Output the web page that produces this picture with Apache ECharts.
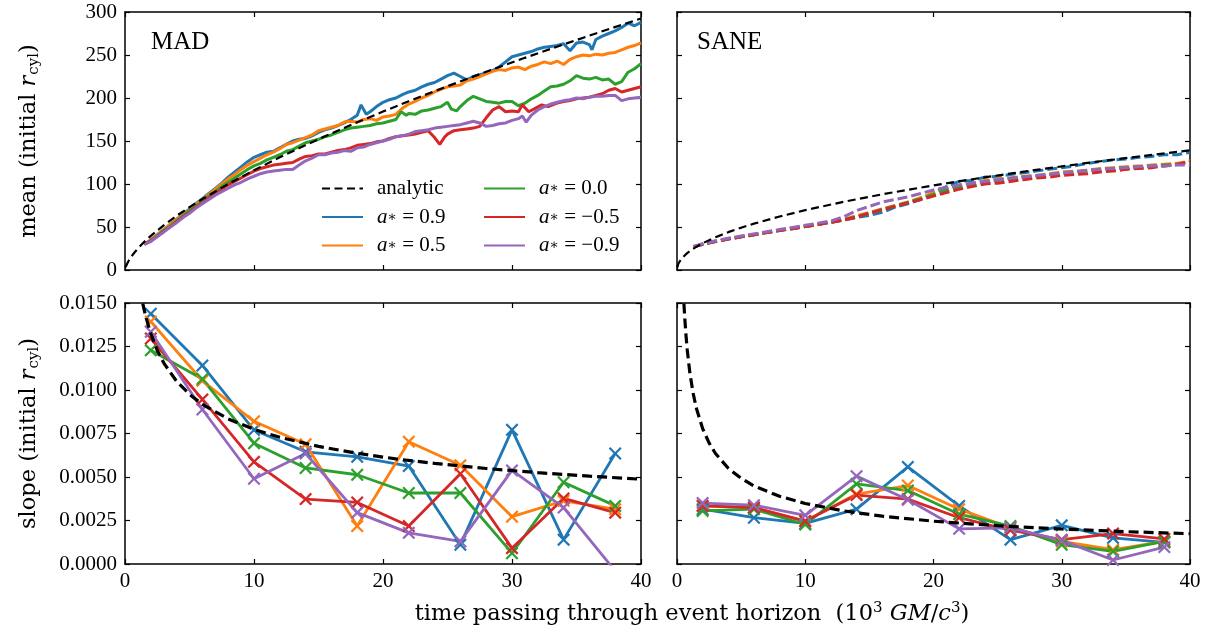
<!DOCTYPE html>
<html>
<head>
<meta charset="utf-8">
<script src="https://cdn.jsdelivr.net/npm/echarts@6.0.0/dist/echarts.min.js"></script>
<style>
html,body{margin:0;padding:0;background:#fff;}
#chart{width:1216px;height:632px;}
</style>
</head>
<body>
<div id="chart"></div>
<script>
// ---------------- data ----------------
const panelTitles = ['MAD', 'SANE'];
const seriesNames = ['a* = 0.9', 'a* = 0.5', 'a* = 0.0', 'a* = −0.5', 'a* = −0.9'];
const xTicks = [0, 10, 20, 30, 40];
const meanTicks = [0, 50, 100, 150, 200, 250, 300];
const slopeTicks = [0, 0.0025, 0.005, 0.0075, 0.01, 0.0125, 0.015];

// analytic curves
const madAnalyticMean = [[0.05,3.4],[0.1,5.4],[0.25,9.9],[0.5,15.7],[0.75,20.6],[1,25],[1.5,32.8],[2,39.7],[3,52],[4,63],[5,73.1],[6,82.5],[8,100],[10,116],[12,131],[14,145.2],[16,158.7],[18,171.7],[20,184.2],[22,196.3],[25,213.7],[28,230.5],[31,246.7],[34,262.3],[37,277.6],[40,292.4]];
const saneAnalyticMean = [[0.02,3.1],[0.05,4.9],[0.1,7],[0.2,9.8],[0.4,13.9],[0.7,18.4],[1,22],[1.5,26.9],[2,31.1],[3,38.1],[4,44],[5,49.2],[6,53.9],[8,62.2],[10,69.6],[13,79.3],[16,88],[20,98.4],[24,107.8],[28,116.4],[32,124.5],[36,132],[40,139.1]];
const madAnalyticSlope = [[1.38,0.01497],[1.6,0.01425],[2,0.01323],[2.5,0.01228],[3,0.01156],[4,0.0105],[5,0.00975],[6,0.00917],[8,0.00834],[10,0.00774],[12,0.00728],[15,0.00676],[18,0.00636],[21,0.00604],[24,0.00578],[28,0.00549],[32,0.00525],[36,0.00505],[40,0.00487]];
const saneAnalyticSlope = [[0.54,0.01497],[0.6,0.0142],[0.7,0.01315],[0.8,0.0123],[1,0.011],[1.25,0.00984],[1.5,0.00898],[2,0.00778],[2.5,0.00696],[3,0.00635],[4,0.0055],[5,0.00492],[6,0.00449],[8,0.00389],[10,0.00348],[13,0.00305],[16,0.00275],[20,0.00246],[25,0.0022],[30,0.00201],[35,0.00186],[40,0.00174]];

// MAD mean curves
const madMean09 = [[1.5,30],[2,35],[2.5,41],[3,47],[3.5,53],[4,59],[4.5,65],[5,71],[5.5,77],[6,83],[6.5,89],[7,95],[7.5,101],[8,108],[8.5,114],[9,120],[9.5,126],[10,131],[10.5,134],[11,137],[11.5,138],[12,142],[12.5,146],[13,150],[13.5,152],[14,153],[14.5,156],[15,160],[15.5,163],[16,165],[16.5,168],[17,171],[17.5,175],[18,180],[18.3,192],[18.7,181],[19,184],[19.5,190],[20,195],[20.5,198],[21,200],[21.5,204],[22,207],[22.5,209],[23,213],[23.5,216],[24,218],[24.5,222],[25,226],[25.5,229],[26,225],[26.5,221],[27,225],[27.5,227],[28,229],[28.5,232],[29,236],[29.5,242],[30,248],[30.5,250],[31,252],[31.5,254],[32,257],[32.5,259],[33,260],[33.5,261],[34,263],[34.5,255],[35,264],[35.5,265],[36,262],[36.2,256],[36.5,268],[37,272],[37.5,275],[38,278],[38.5,282],[39,287],[39.5,284],[40,288]];
const madMean05 = [[1.5,30],[2,35],[2.5,41],[3,47],[3.5,53],[4,59],[4.5,64],[5,70],[5.5,76],[6,82],[6.5,88],[7,94],[7.5,100],[8,106],[8.5,111],[9,117],[9.5,122],[10,126],[10.5,130],[11,134],[11.5,137],[12,141],[12.5,146],[13,148],[13.5,151],[14,154],[14.5,157],[15,162],[15.5,164],[16,166],[16.5,168],[17,172],[17.5,173],[18,172],[18.5,175],[19,176],[19.5,174],[20,178],[20.5,179],[21,181],[21.5,188],[22,193],[22.5,196],[23,200],[23.5,203],[24,207],[24.5,210],[25,213],[25.5,214],[26,215],[26.5,220],[27,222],[27.5,225],[28,228],[28.5,231],[29,233],[29.5,232],[30,235],[30.5,236],[31,233],[31.5,237],[32,239],[32.5,242],[33,240],[33.5,243],[34,239],[34.5,245],[35,248],[35.5,250],[36,249],[36.5,251],[37,250],[37.5,252],[38,253],[38.5,256],[39,259],[39.5,261],[40,264]];
const madMean00 = [[1.5,30],[2,34],[2.5,40],[3,46],[3.5,51],[4,57],[4.5,63],[5,69],[5.5,74],[6,80],[6.5,86],[7,91],[7.5,97],[8,102],[8.5,107],[9,112],[9.5,117],[10,121],[10.5,124],[11,128],[11.5,131],[12,134],[12.5,138],[13,140],[13.5,144],[14,148],[14.5,150],[15,152],[15.5,155],[16,157],[16.5,160],[17,163],[17.5,165],[18,166],[18.5,167],[19,168],[19.5,170],[20,171],[20.5,173],[21,175],[21.4,184],[21.8,180],[22,182],[22.5,181],[23,185],[23.5,186],[24,188],[24.5,190],[25,195],[25.3,187],[25.7,185],[26,190],[26.5,197],[27,202],[27.5,199],[28,196],[28.5,195],[29,194],[29.5,196],[30,196],[30.5,191],[31,194],[31.5,199],[32,203],[32.5,208],[33,213],[33.5,214],[34,216],[34.5,220],[35,226],[35.5,223],[36,222],[36.5,224],[37,221],[37.5,222],[38,216],[38.5,219],[39,230],[39.5,234],[40,240]];
const madMeanM05 = [[1.5,30],[2,34],[2.5,39],[3,45],[3.5,50],[4,56],[4.5,62],[5,67],[5.5,73],[6,78],[6.5,84],[7,89],[7.5,94],[8,99],[8.5,103],[9,107],[9.5,111],[10,115],[10.5,118],[11,120],[11.5,122],[12,123],[12.5,124],[13,125],[13.5,129],[14,132],[14.5,133],[15,135],[15.5,135],[16,137],[16.5,139],[17,140],[17.5,142],[18,145],[18.5,146],[19,147],[19.5,149],[20,150],[20.5,153],[21,155],[21.5,156],[22,157],[22.5,158],[23,160],[23.5,162],[24,154],[24.4,146],[24.8,155],[25,158],[25.5,162],[26,163],[26.5,164],[27,165],[27.5,167],[28,177],[28.5,186],[29,190],[29.5,184],[30,185],[30.5,184],[30.8,192],[31.3,184],[31.8,188],[32.3,192],[32.8,190],[33.5,194],[34,196],[34.5,197],[35,199],[35.5,200],[36,201],[36.5,203],[37,205],[37.5,209],[38,211],[38.5,207],[39,209],[39.5,211],[40,213]];
const madMeanM09 = [[1.5,30],[2,33],[2.5,39],[3,44],[3.5,50],[4,55],[4.5,61],[5,66],[5.5,72],[6,77],[6.5,82],[7,87],[7.5,91],[8,95],[8.5,99],[9,102],[9.5,106],[10,109],[10.5,112],[11,114],[11.5,115],[12,116],[12.5,117],[13,117],[13.5,122],[14,127],[14.5,130],[15,134],[15.5,134],[16,136],[16.5,137],[17,139],[17.5,138],[18,142],[18.5,143],[19,146],[19.5,148],[20,150],[20.5,152],[21,155],[21.5,156],[22,158],[22.5,161],[23,162],[23.5,163],[24,165],[24.5,166],[25,167],[25.5,168],[26,169],[26.5,171],[27,173],[27.5,171],[28,167],[28.5,168],[29,170],[29.5,171],[30,174],[30.5,176],[30.8,179],[31.1,172],[31.5,180],[32,186],[32.5,190],[33,193],[33.5,195],[34,197],[34.5,198],[35,200],[35.5,199],[36,201],[36.5,202],[37,202],[37.5,203],[38,203],[38.5,197],[39,199],[39.5,200],[40,201]];

// SANE mean curves
const saneMean09 = [[1.3,27],[2,30],[3,33],[4,36],[5,38.5],[6,41],[7,43.5],[8,46],[9,48],[10,50.5],[11,53],[12,55.5],[13,58],[14,61],[15,63.5],[16,67],[17,73],[18,77],[19,82],[20,90],[21,97],[22,103],[23,104],[24,108],[25,109],[26,111],[27,113],[28,115],[29,117],[30,119],[31,121],[32,124],[33,126],[34,128],[35,129],[36,131],[37,132],[38,134],[39,134],[40,137]];
const saneMean05 = [[1.3,27],[2,30],[3,33.5],[4,36.5],[5,39],[6,41.5],[7,44],[8,46.5],[9,49],[10,51],[11,53.5],[12,56],[13,59],[14,63],[15,67],[16,71],[17,75],[18,79],[19,84],[20,90],[21,95],[22,98],[23,101],[24,104],[25,106],[26,107],[27,109],[28,110],[29,112],[30,114],[31,115],[32,116],[33,118],[34,119],[35,120],[36,121],[37,122],[38,123],[39,124],[40,127]];
const saneMean00 = [[1.3,27],[2,30],[3,33],[4,36],[5,38.5],[6,41],[7,43.5],[8,46],[9,48.5],[10,50.5],[11,53],[12,55.5],[13,58.5],[14,62],[15,66],[16,70.5],[17,74.5],[18,78.5],[19,83],[20,88],[21,93],[22,97],[23,100],[24,102],[25,104],[26,106],[27,108],[28,109],[29,111],[30,112],[31,114],[32,115],[33,117],[34,118],[35,119],[36,120],[37,121],[38,122],[39,123],[40,125]];
const saneMeanM05 = [[1.3,27],[2,30],[3,33],[4,36],[5,38.5],[6,41],[7,43.5],[8,46],[9,48],[10,50.5],[11,53],[12,55.5],[13,58],[14,61.5],[15,66],[16,70],[17,74],[18,78],[19,82],[20,86],[21,90],[22,94],[23,97],[24,100],[25,101],[26,103],[27,105],[28,107],[29,108],[30,110],[31,111],[32,112],[33,114],[34,115],[35,117],[36,118],[37,119],[38,121],[39,123],[40,126]];
const saneMeanM09 = [[1.3,27.5],[2,30.5],[3,34],[4,37],[5,39.5],[6,42],[7,44.5],[8,47],[9,49.5],[10,52],[11,54.5],[12,57],[13,62],[14,69],[15,74],[16,79],[17,82],[18,85],[19,89],[20,93],[21,96],[22,99],[23,101],[24,103],[25,105],[26,107],[27,108],[28,110],[29,111],[30,113],[31,114],[32,116],[33,117],[34,118],[35,119],[36,120],[37,121],[38,121],[39,122],[40,122]];

// slope points
const slopeT = [2, 6, 10, 14, 18, 22, 26, 30, 34, 38];
const madSlope09 = [0.01438, 0.01141, 0.0077, 0.00645, 0.00616, 0.00563, 0.00111, 0.00771, 0.0014, 0.00635];
const madSlope05 = [0.01393, 0.01053, 0.0082, 0.00688, 0.00218, 0.00703, 0.00567, 0.00272, 0.00363, 0.00315];
const madSlope00 = [0.01228, 0.01063, 0.00694, 0.00552, 0.00513, 0.00408, 0.00408, 0.00062, 0.0047, 0.00334];
const madSlopeM05 = [0.01296, 0.00946, 0.00587, 0.00373, 0.00354, 0.00218, 0.00519, 0.00091, 0.00377, 0.00295];
const madSlopeM09 = [0.01335, 0.00888, 0.0049, 0.00635, 0.00295, 0.00179, 0.0013, 0.00538, 0.00324, -0.0004];
const saneSlope09 = [0.00315, 0.00266, 0.00233, 0.00315, 0.00558, 0.00334, 0.0014, 0.00222, 0.0015, 0.00124];
const saneSlope05 = [0.00334, 0.00324, 0.00247, 0.00402, 0.00451, 0.00315, 0.00208, 0.0013, 0.00082, 0.0013];
const saneSlope00 = [0.00305, 0.00315, 0.00227, 0.0046, 0.00422, 0.00286, 0.00218, 0.00111, 0.00072, 0.0013];
const saneSlopeM05 = [0.00334, 0.00324, 0.00247, 0.00396, 0.00373, 0.00266, 0.00194, 0.0014, 0.00175, 0.00144];
const saneSlopeM09 = [0.0035, 0.00338, 0.0028, 0.00505, 0.00369, 0.00202, 0.00208, 0.00136, 0.00023, 0.00097];

// ---------------- styling ----------------
const COLORS = ['#1f77b4', '#ff7f0e', '#2ca02c', '#d62728', '#9467bd'];
const FONT = '"Liberation Serif", "DejaVu Serif", serif';
const LFONT = '"DejaVu Serif", "Liberation Serif", serif';
const FS = 21;
const LFS = 22.5;
const XMARK = 'path://M0,1.2L1.2,0L5,3.8L8.8,0L10,1.2L6.2,5L10,8.8L8.8,10L5,6.2L1.2,10L0,8.8L3.8,5Z';

const grids = [
  {left: 125, top: 12, width: 516, height: 258},
  {left: 677, top: 12, width: 513, height: 258},
  {left: 125, top: 303, width: 516, height: 261},
  {left: 677, top: 303, width: 513, height: 261}
];

const axisLineStyle = {color: '#000', width: 1.5};
function xAx(gi, pos, labels) {
  return {
    type: 'value', gridIndex: gi, position: pos, min: xTicks[0], max: xTicks[xTicks.length - 1], interval: 10,
    axisLine: {show: true, onZero: false, lineStyle: axisLineStyle},
    axisTick: {show: true, inside: true, length: 5, lineStyle: {color: '#000', width: 1.2}},
    axisLabel: {show: labels, color: '#000', fontFamily: FONT, fontSize: FS, margin: 7, showMinLabel: true, showMaxLabel: true},
    splitLine: {show: false}
  };
}
function yAx(gi, pos, labels, ticks, isSlope, name) {
  return {
    type: 'value', gridIndex: gi, position: pos, min: ticks[0], max: ticks[ticks.length - 1], interval: ticks[1] - ticks[0],
    axisLine: {show: true, onZero: false, lineStyle: axisLineStyle},
    axisTick: {show: true, inside: true, length: 5, lineStyle: {color: '#000', width: 1.2}},
    axisLabel: {show: labels, color: '#000', fontFamily: FONT, fontSize: FS, margin: 8, showMinLabel: true, showMaxLabel: true,
      formatter: v => isSlope ? v.toFixed(4) : String(Math.round(v))},
    splitLine: {show: false},
    name: name || '', nameLocation: 'middle', nameGap: 83, nameRotate: 90,
    nameTextStyle: {color: '#000', fontFamily: LFONT, fontSize: LFS,
      rich: {
        n: {fontFamily: LFONT, fontSize: LFS, color: '#000', lineHeight: 26},
        i: {fontFamily: LFONT, fontSize: LFS, fontStyle: 'italic', color: '#000', lineHeight: 26},
        s: {fontFamily: LFONT, fontSize: 15, color: '#000', verticalAlign: 'bottom', lineHeight: 26, padding: [0, 0, 0, 1]}
      }}
  };
}

const xAxes = [], yAxes = [];
for (let g = 0; g < 4; g++) {
  xAxes.push(xAx(g, 'bottom', g >= 2));
  xAxes.push(xAx(g, 'top', false));
}
const meanName = '{n|mean (initial }{i|r}{s|cyl}{n|)}';
const slopeName = '{n|slope (initial }{i|r}{s|cyl}{n|)}';
yAxes.push(yAx(0, 'left', true, meanTicks, false, meanName));
yAxes.push(yAx(0, 'right', false, meanTicks, false));
yAxes.push(yAx(1, 'left', false, meanTicks, false));
yAxes.push(yAx(1, 'right', false, meanTicks, false));
yAxes.push(yAx(2, 'left', true, slopeTicks, true, slopeName));
yAxes.push(yAx(2, 'right', false, slopeTicks, true));
yAxes.push(yAx(3, 'left', false, slopeTicks, true));
yAxes.push(yAx(3, 'right', false, slopeTicks, true));

const XI = [0, 2, 4, 6];
const YI = [0, 2, 4, 6];

const series = [];
function addLine(name, g, data, color, width, dash, z) {
  series.push({
    name: name, type: 'line', xAxisIndex: XI[g], yAxisIndex: YI[g], data: data,
    symbol: 'none', showSymbol: false, smooth: false, animation: false, z: z || 2,
    lineStyle: {color: color, width: width, type: dash || 'solid'},
    itemStyle: {color: color}
  });
}
function addMarked(name, g, ys, color) {
  series.push({
    name: name, type: 'line', xAxisIndex: XI[g], yAxisIndex: YI[g],
    data: slopeT.map((t, i) => [t, ys[i]]),
    symbol: XMARK, symbolSize: 13, showSymbol: true, animation: false, z: 2,
    lineStyle: {color: color, width: 2.8},
    itemStyle: {color: color, borderWidth: 0}
  });
}

addLine('analytic', 0, madAnalyticMean, '#000', 2.2, [8, 4.5], 5);
const madMeans = [madMean09, madMean05, madMean00, madMeanM05, madMeanM09];
madMeans.forEach((d, i) => addLine(seriesNames[i], 0, d, COLORS[i], 3, 'solid', 2));
const saneMeans = [saneMean09, saneMean05, saneMean00, saneMeanM05, saneMeanM09];
saneMeans.forEach((d, i) => addLine(seriesNames[i], 1, d, COLORS[i], 3, [10, 4], 2));
addLine('analytic', 1, saneAnalyticMean, '#000', 2.2, [8, 4.5], 5);
const madSlopes = [madSlope09, madSlope05, madSlope00, madSlopeM05, madSlopeM09];
madSlopes.forEach((d, i) => addMarked(seriesNames[i], 2, d, COLORS[i]));
addLine('analytic', 2, madAnalyticSlope, '#000', 3.2, [10, 5], 5);
const saneSlopes = [saneSlope09, saneSlope05, saneSlope00, saneSlopeM05, saneSlopeM09];
saneSlopes.forEach((d, i) => addMarked(seriesNames[i], 3, d, COLORS[i]));
addLine('analytic', 3, saneAnalyticSlope, '#000', 3.2, [10, 5], 5);

function legendFmt(name) {
  if (name === 'analytic') return '{n|analytic}';
  const v = name.split('= ')[1];
  return '{i|a}{s|∗}{n| = ' + v + '}';
}
const legendRich = {
  n: {fontFamily: FONT, fontSize: FS, color: '#000', lineHeight: 16, height: 16},
  i: {fontFamily: FONT, fontSize: FS, fontStyle: 'italic', color: '#000', lineHeight: 16, height: 16},
  s: {fontFamily: FONT, fontSize: 14, color: '#000', verticalAlign: 'bottom', lineHeight: 16, height: 16}
};
function legendCfg(names, left) {
  return {
    data: names, left: left, top: 178, orient: 'vertical', itemWidth: 41, itemHeight: 16, itemGap: 7.5,
    selectedMode: false, formatter: legendFmt, padding: 0,
    itemStyle: {opacity: 0},
    textStyle: {fontFamily: FONT, fontSize: FS, color: '#000', lineHeight: 16, height: 16, padding: [0, 0, 0, 9], rich: legendRich}
  };
}

const option = {
  backgroundColor: '#fff',
  animation: false,
  grid: grids,
  xAxis: xAxes,
  yAxis: yAxes,
  legend: [
    legendCfg(['analytic', seriesNames[0], seriesNames[1]], 321),
    legendCfg([seriesNames[2], seriesNames[3], seriesNames[4]], 483)
  ],
  graphic: [
    {type: 'text', left: 151, top: 30, style: {text: panelTitles[0], font: '25px ' + FONT, fill: '#000'}},
    {type: 'text', left: 697, top: 30, style: {text: panelTitles[1], font: '25px ' + FONT, fill: '#000'}},
    {type: 'text', x: 692, y: 614, style: {
      align: 'center', verticalAlign: 'middle',
      text: '{n|time passing through event horizon  (10}{p|3}{i| GM}{n|/}{i|c}{p|3}{n|)}',
      rich: {
        n: {fontFamily: LFONT, fontSize: LFS, fill: '#000', lineHeight: 26},
        i: {fontFamily: LFONT, fontSize: LFS, fontStyle: 'italic', fill: '#000', lineHeight: 26},
        p: {fontFamily: LFONT, fontSize: 15, fill: '#000', verticalAlign: 'top', lineHeight: 26}
      }
    }}
  ],
  series: series
};

const chart = echarts.init(document.getElementById('chart'), null, {renderer: 'canvas'});
chart.setOption(option);
</script>
</body>
</html>
